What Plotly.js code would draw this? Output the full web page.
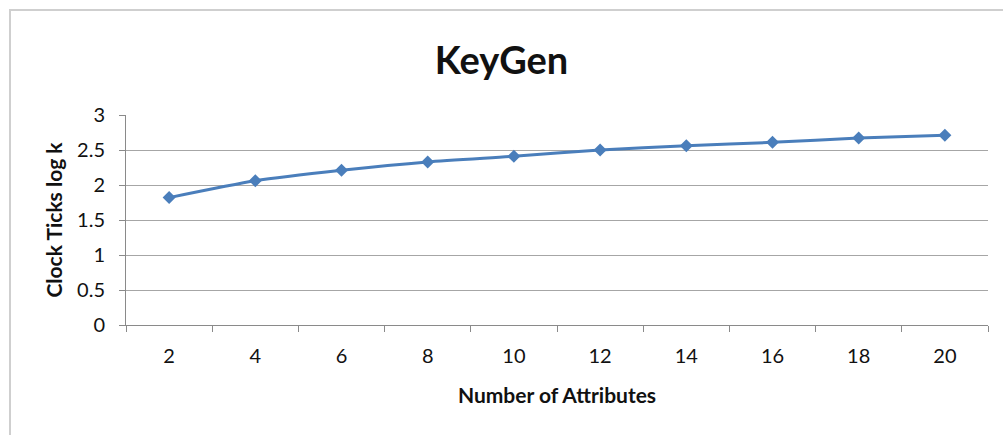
<!DOCTYPE html>
<html>
<head>
<meta charset="utf-8">
<script src="https://cdn.plot.ly/plotly-3.0.1.min.js"></script>
<style>
  html, body { margin: 0; padding: 0; background: #fff; }
  #chart { width: 1003px; height: 435px; position: absolute; left: 0; top: 0; }
  #frame { position: absolute; left: 9px; top: 9px; width: 1010px; height: 440px;
           border: 2px solid #cfcfcf; pointer-events: none; z-index: 5; }
</style>
</head>
<body>
<div id="chart"></div>
<div id="frame"></div>
<script>
const categories = ["2", "4", "6", "8", "10", "12", "14", "16", "18", "20"];
const clockTicksLogK = [1.82, 2.06, 2.21, 2.33, 2.41, 2.50, 2.56, 2.61, 2.67, 2.71];
const yTicks = [0, 0.5, 1, 1.5, 2, 2.5, 3];
const yTickLabels = ["0", "0.5", "1", "1.5", "2", "2.5", "3"];

const FONT = "Lato, 'Open Sans', sans-serif";

const trace = {
  x: categories,
  y: clockTicksLogK,
  type: "scatter",
  mode: "lines+markers",
  line: { color: "#4a7ebb", width: 3, shape: "spline", smoothing: 0.6 },
  marker: { symbol: "diamond", size: 10, color: "#4a7ebb" },
  hoverinfo: "x+y"
};

const layout = {
  width: 1003,
  height: 435,
  margin: { l: 126, r: 15, t: 115, b: 110 },
  paper_bgcolor: "#ffffff",
  plot_bgcolor: "#ffffff",
  showlegend: false,
  font: { family: FONT, color: "#111111" },
  title: {
    text: "<b>KeyGen</b>",
    font: { family: FONT, size: 38, color: "#111111" },
    x: 0.5, xanchor: "center",
    y: 1 - 61 / 435, yanchor: "middle"
  },
  xaxis: {
    type: "category",
    range: [-0.5, categories.length - 0.5],
    tickson: "boundaries",
    ticks: "outside",
    ticklen: 6,
    tickcolor: "#8a8a8a",
    showline: true,
    linecolor: "#8a8a8a",
    linewidth: 1,
    showgrid: false,
    zeroline: false,
    tickfont: { family: FONT, size: 20, color: "#111" },
    ticklabelstandoff: 13,
    title: {
      text: "<b>Number of Attributes</b>",
      font: { family: FONT, size: 21, color: "#111" },
      standoff: 22
    }
  },
  yaxis: {
    range: [0, 3],
    tickvals: yTicks,
    ticktext: yTickLabels,
    ticks: "outside",
    ticklen: 6,
    tickcolor: "#8a8a8a",
    showline: true,
    linecolor: "#8a8a8a",
    linewidth: 1,
    showgrid: true,
    gridcolor: "#a6a6a6",
    gridwidth: 1,
    zeroline: false,
    tickfont: { family: FONT, size: 20, color: "#111" },
    ticklabelstandoff: 10,
    title: {
      text: "<b>Clock Ticks log k</b>",
      font: { family: FONT, size: 21, color: "#111" },
      standoff: 8
    }
  }
};

Plotly.newPlot("chart", [trace], layout, { displayModeBar: false, staticPlot: true });
</script>
</body>
</html>
